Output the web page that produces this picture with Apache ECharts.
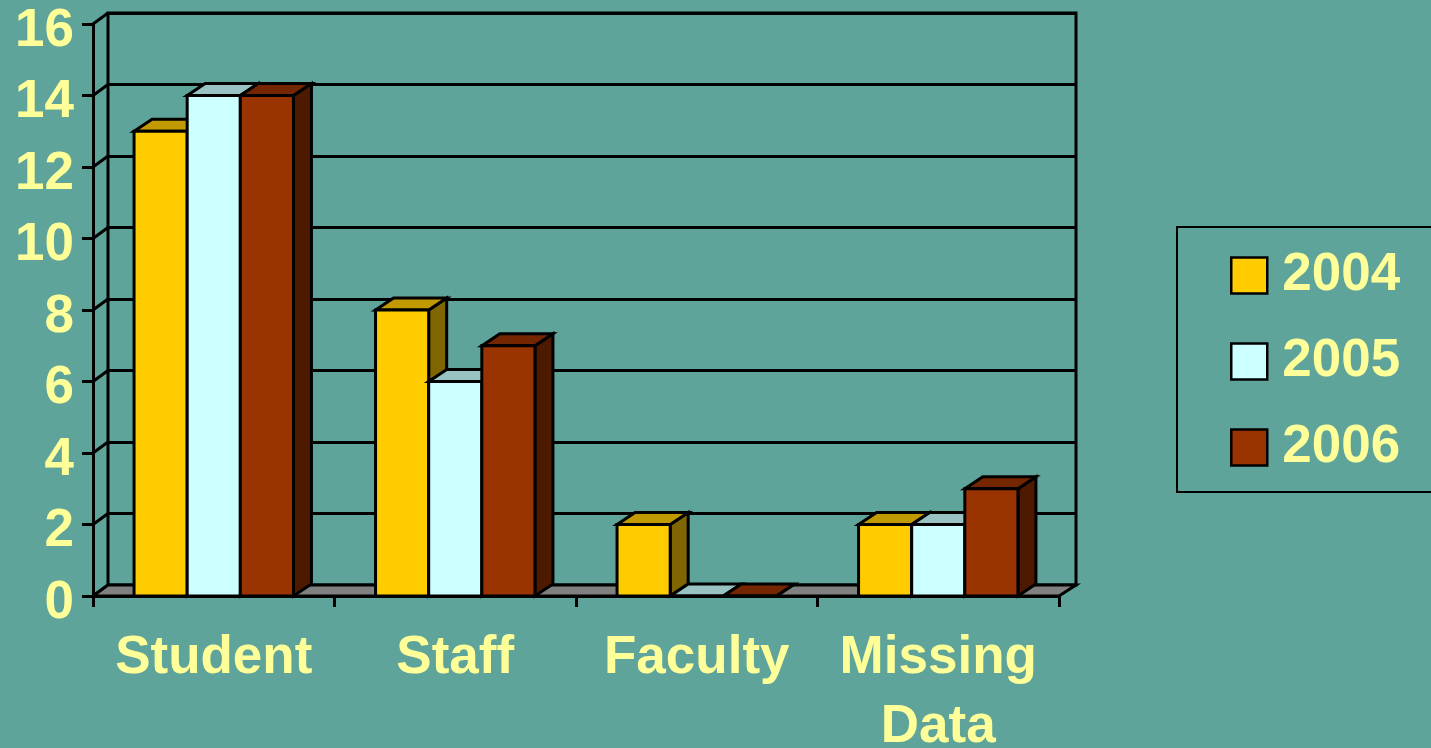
<!DOCTYPE html>
<html>
<head>
<meta charset="utf-8">
<script src="https://cdn.jsdelivr.net/npm/echarts@6/dist/echarts.min.js"></script>
<style>
  html, body { margin: 0; padding: 0; background: #5FA49A; }
  #chart { width: 1431px; height: 748px; }
</style>
</head>
<body>
<div id="chart"></div>
<script>
// ---- data ----
const categories = ['Student', 'Staff', 'Faculty', 'Missing Data'];
const years = ['2004', '2005', '2006'];
const values2004 = [13, 8, 2, 2];
const values2005 = [14, 6, 0, 2];
const values2006 = [14, 7, 0, 3];
const yTicks = [0, 2, 4, 6, 8, 10, 12, 14, 16];

// ---- style ----
const FONT = "'Liberation Sans', Arial, sans-serif";
const TEXT = '#FFFF99';
const FRONT = ['#FFCC00', '#CCFFFF', '#993300'];
const TOPC = ['#C09A00', '#99C2C2', '#732600'];
const SIDE = ['#806600', '#668080', '#4D1A00'];
const DX = 18, DY = -12;        // bar depth
const WDX = 15, WDY = -11;      // wall depth
const LW = 3;
const seriesValues = [values2004, values2005, values2006];

function barSeries(idx) {
  return {
    type: 'custom',
    name: years[idx],
    coordinateSystem: 'cartesian2d',
    xAxisIndex: 0, yAxisIndex: 0,
    data: seriesValues[idx].map((v, i) => [i, v]),
    encode: { x: 0, y: 1 },
    itemStyle: { color: FRONT[idx], borderColor: '#000', borderWidth: 2 },
    z: 5,
    renderItem: function (params, api) {
      const ci = api.value(0), v = api.value(1);
      const top = api.coord([ci, v]);
      const base = api.coord([ci, 0]);
      const band = api.size([1, 0])[0];
      const bw = band * 0.22;
      const x0 = top[0] + (idx - 1.5) * bw, x1 = x0 + bw;
      const yt = top[1], yb = base[1];
      const st = { stroke: '#000', lineWidth: LW, lineJoin: 'miter' };
      return {
        type: 'group',
        children: [
          { type: 'polygon', shape: { points: [[x1, yt], [x1 + DX, yt + DY], [x1 + DX, yb + DY], [x1, yb]] },
            style: Object.assign({ fill: SIDE[idx] }, st) },
          { type: 'polygon', shape: { points: [[x0, yt], [x1, yt], [x1 + DX, yt + DY], [x0 + DX, yt + DY]] },
            style: Object.assign({ fill: TOPC[idx] }, st) },
          { type: 'rect', shape: { x: x0, y: yt, width: bw, height: yb - yt },
            style: Object.assign({ fill: FRONT[idx] }, st) }
        ]
      };
    }
  };
}

const chart = echarts.init(document.getElementById('chart'), null, { renderer: 'canvas' });
const option = {
  backgroundColor: '#5FA49A',
  animation: false,
  grid: [
    { left: 93, right: 372, top: 24, bottom: 152, outerBoundsMode: 'none', containLabel: false },
    { left: 108, right: 355, top: 13, bottom: 163, outerBoundsMode: 'none', show: true,
      borderColor: '#000', borderWidth: LW, backgroundColor: 'transparent' }
  ],
  xAxis: [
    {
      type: 'category', gridIndex: 0, data: categories, boundaryGap: true,
      axisLine: { show: true, lineStyle: { color: '#000', width: LW } },
      axisTick: { show: true, length: 11, lineStyle: { color: '#000', width: LW } },
      axisLabel: {
        interval: 0, color: TEXT, fontSize: 53, fontWeight: 'bold', fontFamily: FONT,
        margin: 28, lineHeight: 69,
        formatter: function (v) { return v.replace(' ', '\n'); }
      },
      splitLine: { show: false }
    },
    { type: 'value', gridIndex: 1, show: false, min: 0, max: 1, splitLine: { show: false } }
  ],
  yAxis: [
    {
      type: 'value', gridIndex: 0, min: 0, max: 16, interval: 2,
      axisLine: { show: true, lineStyle: { color: '#000', width: LW } },
      axisTick: { show: true, length: 11, lineStyle: { color: '#000', width: LW } },
      axisLabel: { color: TEXT, fontSize: 53, fontWeight: 'bold', fontFamily: FONT, margin: 19,
                   verticalAlign: 'top', lineHeight: 14 },
      splitLine: { show: false }
    },
    {
      type: 'value', gridIndex: 1, min: 0, max: 16, interval: 2,
      axisLine: { show: false }, axisTick: { show: false }, axisLabel: { show: false },
      splitLine: { show: true, lineStyle: { color: '#000', width: LW } }
    }
  ],
  legend: {
    orient: 'vertical', left: 1177, top: 227,
    padding: [22, 90, 18, 53],
    itemWidth: 36, itemHeight: 36, itemGap: 33,
    borderColor: '#000', borderWidth: 2,
    icon: 'rect',
    itemStyle: { borderColor: '#000', borderWidth: 2.5 },
    textStyle: { color: TEXT, fontSize: 53, fontWeight: 'bold', fontFamily: FONT, lineHeight: 50, padding: [0, 0, 0, 10] },
    data: years
  },
  series: [
    {
      type: 'custom', coordinateSystem: 'cartesian2d', xAxisIndex: 0, yAxisIndex: 0, silent: true, z: 3,
      data: yTicks.map(v => [0, v]),
      renderItem: function (params, api) {
        const cs = params.coordSys;
        const p = api.coord([0, api.value(1)]);
        return { type: 'line', shape: { x1: cs.x, y1: p[1], x2: cs.x + WDX, y2: p[1] + WDY },
                 style: { stroke: '#000', lineWidth: LW } };
      }
    },
    {
      type: 'custom', coordinateSystem: 'cartesian2d', xAxisIndex: 0, yAxisIndex: 0, silent: true, z: 4,
      data: [[0, 0]],
      renderItem: function (params, api) {
        const cs = params.coordSys;
        const yb = api.coord([0, 0])[1];
        const xl = cs.x, xr = cs.x + cs.width;
        return { type: 'polygon',
                 shape: { points: [[xl, yb], [xr, yb], [xr + 17, yb + WDY], [xl + WDX, yb + WDY]] },
                 style: { fill: '#808080', stroke: '#000', lineWidth: LW } };
      }
    },
    barSeries(0), barSeries(1), barSeries(2)
  ]
};
chart.setOption(option);
</script>
</body>
</html>
